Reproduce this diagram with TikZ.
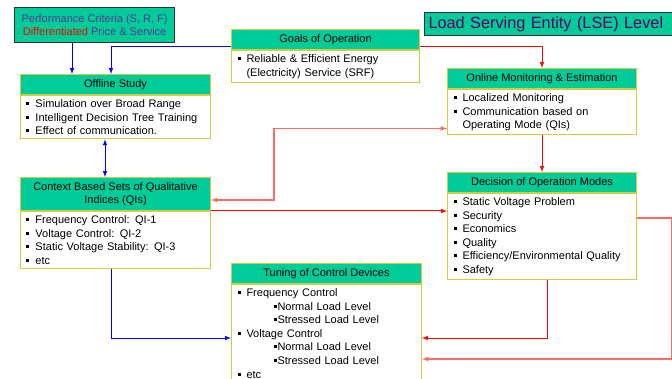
\documentclass[tikz,border=0pt]{standalone}
\usepackage{fontspec}
\setmainfont{Liberation Sans}
\usetikzlibrary{positioning}

\definecolor{hdrgreen}{RGB}{0,204,153}
\definecolor{boxyellow}{RGB}{210,205,60}
\definecolor{titlepurple}{RGB}{102,0,102}
\definecolor{critpurple}{RGB}{102,51,153}
\definecolor{linkred}{RGB}{255,0,0}
\definecolor{linkpink}{RGB}{255,105,105}
\definecolor{linkblue}{RGB}{0,0,255}

\newcommand{\bul}{\rule[2.5pt]{3pt}{3pt}\hspace{6pt}}
\newcommand{\subbul}{\hspace*{36pt}\rule[2.5pt]{3pt}{3pt}\hspace{1pt}}

\begin{document}
\begin{tikzpicture}[x=1pt,y=-1pt,>=latex,
    every node/.style={font=\fontsize{11}{13.6}\selectfont},
    hdr/.style={draw=boxyellow,fill=hdrgreen,line width=1pt,minimum width=#1,
      minimum height=20pt,anchor=north west,inner sep=1pt,align=center},
    body/.style={draw=boxyellow,fill=white,line width=1pt,text width=#1,
      inner xsep=6pt,inner ysep=4pt,align=left},
    blk/.style={->,draw=linkblue,line width=1pt},
    rd/.style={->,draw=linkred,line width=1pt},
    pk/.style={->,draw=linkpink,line width=1.2pt}]
  \useasboundingbox (0,0) rectangle (672,379);

  % criteria and title
  \node[draw=black!80,fill=hdrgreen,line width=1.2pt,anchor=north west,
        minimum width=160pt,minimum height=35pt,inner sep=1pt,align=center] (perf) at (14,7)
    {\color{critpurple}Performance Criteria (S, R, F)\\
     \color{linkred}Differentiated \color{critpurple}Price \& Service};
  \node[draw=black!80,fill=hdrgreen,line width=1pt,anchor=north west,
        text width=252pt,minimum height=23pt,inner xsep=4pt,inner ysep=2pt,align=left,
        font=\fontsize{16.3}{19}\selectfont,text=titlepurple] (lse) at (424,12)
    {Load Serving Entity (LSE) Level};

  % boxes
  \node[hdr=188pt] (goal) at (231,29) {Goals of Operation};
  \node[body=176pt,below=0pt of goal] (goalb)
    {\bul Reliable \& Efficient Energy\\ \hspace*{9pt}(Electricity) Service (SRF)};

  \node[hdr=190pt] (off) at (20,74) {Offline Study};
  \node[body=178pt,below=0pt of off] (offb)
    {\bul Simulation over Broad Range\\ \bul Intelligent Decision Tree Training\\
     \bul Effect of communication.};

  \node[hdr=189pt] (onl) at (447,68) {Online Monitoring \& Estimation};
  \node[body=177pt,below=0pt of onl] (onlb)
    {\bul Localized Monitoring\\ \bul Communication based on\\
     \hspace*{9pt}Operating Mode (QIs)};

  \node[hdr=190pt,minimum height=33pt] (ctx) at (20,177)
    {Context Based Sets of Qualitative\\ Indices (QIs)};
  \node[body=178pt,below=0pt of ctx] (ctxb)
    {\bul Frequency Control: QI-1\\ \bul Voltage Control: QI-2\\
     \bul Static Voltage Stability: QI-3\\ \bul etc};

  \node[hdr=189pt] (dec) at (447,172) {Decision of Operation Modes};
  \node[body=177pt,below=0pt of dec] (decb)
    {\bul Static Voltage Problem\\ \bul Security\\ \bul Economics\\ \bul Quality\\
     \bul Efficiency/Environmental Quality\\ \bul Safety};

  \node[hdr=190pt] (tun) at (231,263) {Tuning of Control Devices};
  \node[body=178pt,below=0pt of tun] (tunb)
    {\bul Frequency Control\\ \subbul Normal Load Level\\ \subbul Stressed Load Level\\
     \bul Voltage Control\\ \subbul Normal Load Level\\ \subbul Stressed Load Level\\
     \bul etc};

  % connectors
  \draw[blk] ([xshift=58pt]perf.south west) -- ([xshift=52pt]off.north west);
  \draw[blk] ([yshift=-7pt]goal.west) -| ([xshift=91pt]off.north west);
  \draw[blk,<->] ([xshift=85pt]offb.south west) -- ([xshift=85pt]ctx.north west);
  \draw[blk] ([xshift=91pt]ctxb.south west) |- ([yshift=-54pt]tun.south west);

  \draw[rd] ([yshift=-7pt]goal.east) -| (onl.north);
  \draw[rd] (onlb.south) -- (dec.north);
  \draw[pk,<->] ([yshift=-6pt]ctx.east) -- ++(63,0) |- ([yshift=7pt]onlb.south west);
  \draw[rd] (ctx.south east) -- (ctx.south east -| decb.west);
  \draw[rd] ([xshift=5pt]decb.south) |- ([yshift=-54pt]tun.south east);
  \draw[pk] ([yshift=-25pt]dec.south east) -- ++(35,0) |- ([yshift=-75pt]tun.south east);
\end{tikzpicture}
\end{document}
